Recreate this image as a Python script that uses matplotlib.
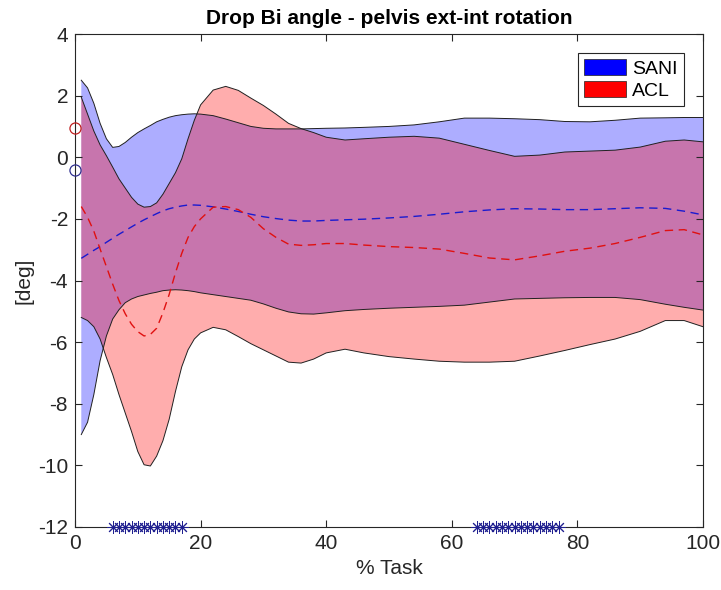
import matplotlib
matplotlib.use("Agg")
import matplotlib.pyplot as plt
from matplotlib.patches import Patch

plt.rcParams['font.family'] = ['Liberation Sans', 'DejaVu Sans']
plt.rcParams['axes.unicode_minus'] = False

# % task sample points
task = [1, 2, 3, 4, 5, 6, 7, 8, 9, 10, 11, 12, 13, 14, 15, 16, 17, 18, 19, 20,
        22, 24, 26, 28, 30, 32, 34, 36, 38, 40, 43, 46, 50, 54, 58, 62, 66, 70,
        74, 78, 82, 86, 90, 94, 97, 100]

# SANI group: mean and band (upper / lower)
sani_mean = [-3.28, -3.15, -3.02, -2.9, -2.76, -2.63, -2.5, -2.38, -2.26, -2.14,
             -2.03, -1.93, -1.83, -1.74, -1.67, -1.62, -1.58, -1.55, -1.55, -1.56,
             -1.61, -1.68, -1.76, -1.85, -1.93, -1.99, -2.04, -2.07, -2.07, -2.05,
             -2.03, -2.01, -1.97, -1.92, -1.85, -1.77, -1.71, -1.67, -1.68, -1.7,
             -1.7, -1.67, -1.64, -1.66, -1.75, -1.87]
sani_upper = [2.5, 2.25, 1.75, 1.1, 0.6, 0.32, 0.35, 0.48, 0.65, 0.8,
              0.92, 1.03, 1.15, 1.23, 1.3, 1.35, 1.38, 1.4, 1.41, 1.4,
              1.35, 1.24, 1.12, 1.0, 0.94, 0.92, 0.92, 0.92, 0.93, 0.94,
              0.95, 0.97, 1.0, 1.05, 1.15, 1.27, 1.27, 1.25, 1.22, 1.16,
              1.15, 1.2, 1.27, 1.28, 1.29, 1.29]
sani_lower = [-9.0, -8.6, -7.7, -6.6, -5.8, -5.25, -4.95, -4.72, -4.6, -4.52,
              -4.47, -4.42, -4.38, -4.33, -4.31, -4.3, -4.31, -4.33, -4.36, -4.4,
              -4.46, -4.52, -4.58, -4.64, -4.76, -4.9, -5.02, -5.08, -5.09, -5.05,
              -4.98, -4.94, -4.9, -4.87, -4.84, -4.8, -4.7, -4.6, -4.58, -4.56,
              -4.55, -4.55, -4.62, -4.77, -4.87, -4.96]

# ACL group: mean and band (upper / lower)
acl_mean = [-1.6, -1.95, -2.4, -2.98, -3.55, -4.12, -4.65, -5.08, -5.42, -5.66,
            -5.8, -5.75, -5.55, -5.05, -4.45, -3.75, -3.12, -2.6, -2.25, -2.0,
            -1.62, -1.6, -1.7, -1.95, -2.32, -2.6, -2.82, -2.86, -2.84, -2.8,
            -2.8, -2.85, -2.9, -2.93, -2.98, -3.12, -3.27, -3.33, -3.2, -3.05,
            -2.95, -2.8, -2.6, -2.38, -2.35, -2.52]
acl_upper = [1.95, 1.4, 0.85, 0.4, 0.05, -0.32, -0.7, -1.0, -1.3, -1.52,
             -1.62, -1.6, -1.48, -1.2, -0.85, -0.5, -0.05, 0.6, 1.2, 1.7,
             2.18, 2.3, 2.17, 1.92, 1.68, 1.4, 1.1, 0.93, 0.8, 0.65,
             0.56, 0.6, 0.65, 0.68, 0.62, 0.42, 0.22, 0.03, 0.07, 0.17,
             0.2, 0.23, 0.33, 0.52, 0.56, 0.5]
acl_lower = [-5.2, -5.3, -5.5, -5.9, -6.5, -7.05, -7.7, -8.3, -8.9, -9.55,
             -9.98, -10.02, -9.7, -9.2, -8.5, -7.6, -6.8, -6.25, -5.9, -5.7,
             -5.52, -5.6, -5.82, -6.05, -6.25, -6.45, -6.65, -6.68, -6.55, -6.35,
             -6.23, -6.35, -6.47, -6.55, -6.62, -6.65, -6.65, -6.62, -6.45, -6.27,
             -6.08, -5.9, -5.65, -5.3, -5.3, -5.5]

# initial values at 0 %
sani_start = -0.41
acl_start = 0.96

# significant differences (marked at the bottom)
sig_task = [6, 7, 8, 9, 10, 11, 12, 13, 14, 15, 16, 17,
            64, 65, 66, 67, 68, 69, 70, 71, 72, 73, 74, 75, 76, 77]
sig_level = -12

fig = plt.figure(figsize=(7.21, 5.9), dpi=100)
ax = fig.add_axes([75 / 721, 1 - 527 / 590, 628 / 721, 493 / 590])

ax.fill_between(task, sani_lower, sani_upper, facecolor='blue', alpha=0.32, linewidth=0)
ax.fill_between(task, acl_lower, acl_upper, facecolor='red', alpha=0.32, linewidth=0)
for band in [sani_upper, sani_lower, acl_upper, acl_lower]:
    ax.plot(task, band, color='#202020', linewidth=0.7)

ax.plot(task, sani_mean, '--', color='#1a1ad0', linewidth=1.0, dashes=(6, 4))
ax.plot(task, acl_mean, '--', color='#e01010', linewidth=1.0, dashes=(6, 4))

ax.plot([0], [acl_start], 'o', mfc='none', mec='#c02020', ms=8, mew=0.9, clip_on=False, zorder=5)
ax.plot([0], [sani_start], 'o', mfc='none', mec='#303090', ms=8, mew=0.9, clip_on=False, zorder=5)

# MATLAB-like asterisks (+ and x combined)
ax.plot(sig_task, [sig_level] * len(sig_task), linestyle='none', marker=(8, 2, 0),
        color='#202090', ms=9, mew=0.7, clip_on=False, zorder=5)

ax.set_xlim(0, 100)
ax.set_ylim(-12, 4)
ax.set_xticks(range(0, 101, 20))
ax.set_yticks(range(-12, 5, 2))
ax.tick_params(direction='in', top=True, right=True, labelsize=15, length=5,
               width=0.8, colors='#262626', labelcolor='#262626', pad=5)
for s in ax.spines.values():
    s.set_color('#262626')
    s.set_linewidth(0.8)

ax.set_xlabel('% Task', fontsize=15, color='#262626', labelpad=4)
ax.set_ylabel('[deg]', fontsize=15, color='#262626', labelpad=3)
ax.set_title('Drop Bi angle - pelvis ext-int rotation', fontsize=15, fontweight='bold', pad=7)

handles = [Patch(facecolor='blue', edgecolor='#202020', linewidth=0.5, label='SANI'),
           Patch(facecolor='red', edgecolor='#202020', linewidth=0.5, label='ACL')]
leg = ax.legend(handles=handles, loc='upper right', fontsize=14, fancybox=False,
                framealpha=1, edgecolor='#262626', handlelength=2.2, handleheight=0.9,
                borderaxespad=1.0, handletextpad=0.3, borderpad=0.3, labelspacing=0.15)
leg.get_frame().set_linewidth(0.8)

fig.savefig('out.png', dpi=100)
